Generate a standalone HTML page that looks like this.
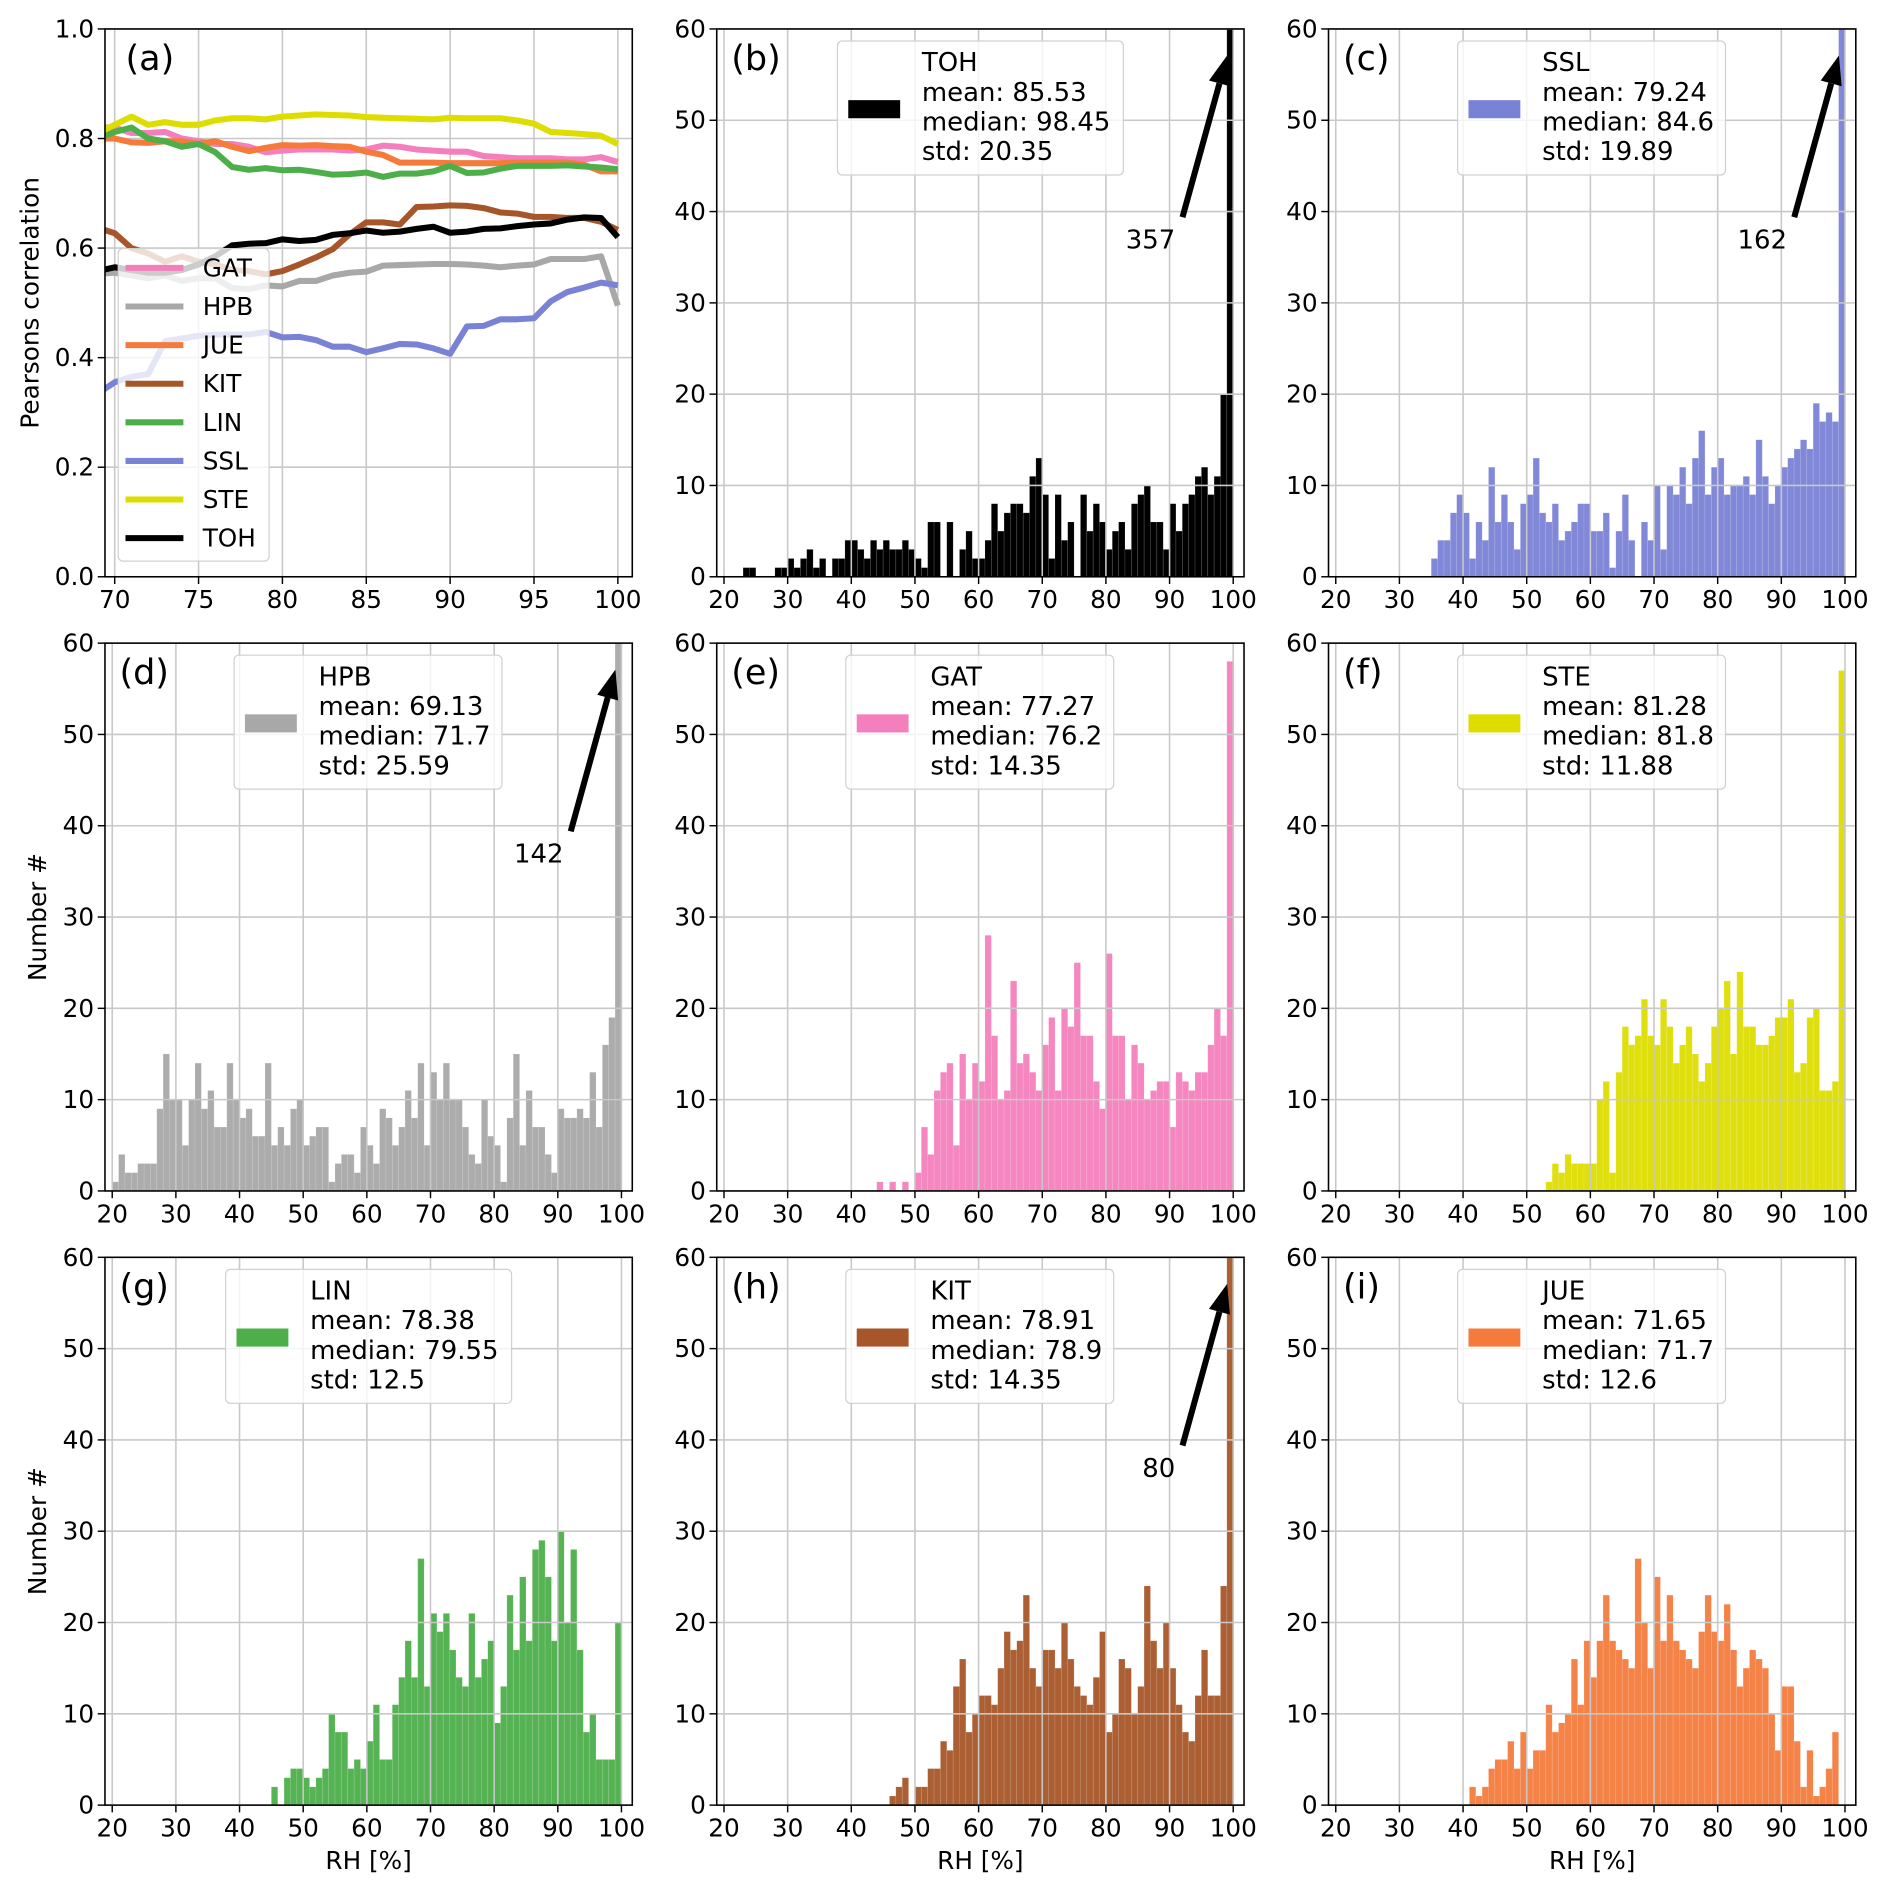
<!DOCTYPE html>
<html><head><meta charset="utf-8"><title>RH histograms</title>
<style>
html,body{margin:0;padding:0;background:#fff;}
svg{display:block;font-family:"DejaVu Sans","Liberation Sans",sans-serif;}
</style></head>
<body>
<svg id="fig" xmlns="http://www.w3.org/2000/svg" width="1892" height="1892" viewBox="0 0 1568 1568"></svg>
<script>
// ---------- Panel (a) data ----------
const corrX = [69,70,71,72,73,74,75,76,77,78,79,80,81,82,83,84,85,86,87,88,89,90,91,92,93,94,95,96,97,98,99,100];
const corrGAT = [0.82,0.82,0.81,0.81,0.812,0.80,0.795,0.79,0.79,0.785,0.775,0.778,0.78,0.78,0.78,0.778,0.78,0.787,0.785,0.78,0.778,0.776,0.776,0.768,0.766,0.764,0.764,0.764,0.762,0.762,0.766,0.757];
const corrHPB = [0.553,0.555,0.55,0.545,0.55,0.54,0.545,0.545,0.527,0.525,0.532,0.53,0.54,0.54,0.55,0.555,0.557,0.568,0.569,0.57,0.571,0.571,0.57,0.568,0.565,0.568,0.57,0.58,0.58,0.58,0.585,0.495];
const corrJUE = [0.80,0.80,0.793,0.792,0.795,0.795,0.79,0.795,0.785,0.777,0.783,0.788,0.787,0.788,0.786,0.785,0.776,0.77,0.756,0.756,0.756,0.755,0.755,0.755,0.755,0.756,0.756,0.756,0.756,0.752,0.74,0.74];
const corrKIT = [0.637,0.627,0.60,0.59,0.575,0.585,0.575,0.57,0.56,0.558,0.552,0.558,0.57,0.583,0.598,0.625,0.647,0.647,0.643,0.675,0.676,0.678,0.677,0.673,0.665,0.663,0.657,0.657,0.655,0.655,0.648,0.633];
const corrLIN = [0.80,0.812,0.82,0.80,0.795,0.785,0.79,0.775,0.748,0.743,0.746,0.742,0.743,0.739,0.734,0.735,0.738,0.73,0.736,0.736,0.74,0.75,0.737,0.738,0.745,0.75,0.75,0.75,0.751,0.749,0.747,0.744];
const corrSSL = [0.335,0.355,0.365,0.37,0.43,0.435,0.44,0.442,0.442,0.442,0.447,0.437,0.438,0.432,0.42,0.42,0.41,0.417,0.425,0.424,0.417,0.407,0.457,0.458,0.47,0.47,0.472,0.503,0.52,0.528,0.537,0.532];
const corrSTE = [0.81,0.825,0.84,0.825,0.83,0.825,0.825,0.833,0.837,0.837,0.835,0.84,0.842,0.844,0.843,0.842,0.839,0.838,0.837,0.836,0.835,0.838,0.837,0.837,0.837,0.833,0.827,0.812,0.81,0.808,0.805,0.79];
const corrTOH = [0.558,0.565,0.56,0.555,0.555,0.56,0.57,0.585,0.605,0.608,0.609,0.616,0.613,0.615,0.624,0.627,0.632,0.628,0.63,0.635,0.639,0.628,0.63,0.635,0.636,0.64,0.643,0.645,0.652,0.656,0.655,0.62];
const corrYTicks = [0.0,0.2,0.4,0.6,0.8,1.0];
const corrXTicks = [70,75,80,85,90,95,100];

// ---------- Histogram data (counts per 1% RH bin, starting at given bin) ----------
const histXTicks = [20,30,40,50,60,70,80,90,100];
const histYTicks = [0,10,20,30,40,50,60];
const tohStart = 23;
const tohCounts = [1,1,0,0,0,1,1,2,1,2,3,1,2,0,2,2,4,4,3,2,4,3,4,3,3,4,3,2,1,6,6,0,6,0,3,5,2,2,4,8,5,7,8,8,7,11,13,9,2,9,4,6,0,9,5,8,6,3,5,6,3,8,9,10,6,6,3,8,5,8,9,11,12,9,11,20,357];
const sslStart = 35;
const sslCounts = [2,4,4,7,9,7,2,6,4,12,6,9,6,3,8,9,13,7,6,8,4,5,6,8,8,5,5,7,1,5,9,4,0,6,4,10,3,10,9,12,8,13,16,9,12,13,9,10,10,11,9,15,11,8,10,12,13,14,15,14,19,17,18,17,162];
const hpbStart = 20;
const hpbCounts = [1,4,2,2,3,3,3,9,15,10,10,5,10,14,9,11,7,7,14,10,8,9,6,6,14,5,7,5,9,10,5,6,7,7,1,3,4,4,2,7,5,3,9,8,5,7,11,8,14,5,13,10,14,10,10,7,4,3,10,6,5,1,8,15,5,11,7,7,4,2,9,8,8,9,8,13,7,16,19,142];
const gatStart = 44;
const gatCounts = [1,0,1,0,1,0,2,7,4,11,13,14,5,15,10,14,12,28,17,10,11,23,14,15,13,11,16,19,11,20,18,25,17,17,12,9,26,17,17,10,16,14,10,11,12,12,7,13,12,11,13,13,16,20,17,58];
const steStart = 53;
const steCounts = [1,3,2,4,3,3,3,3,10,12,2,13,18,16,17,21,17,16,21,18,14,16,18,15,12,14,18,20,23,15,24,18,18,16,16,17,19,19,21,13,14,19,20,11,11,12,57];
const linStart = 45;
const linCounts = [2,0,3,4,4,3,2,3,4,10,8,8,4,5,4,7,11,5,5,11,14,18,14,27,13,21,19,21,17,14,13,21,14,16,18,9,13,23,17,25,18,28,29,25,18,30,20,28,17,8,10,5,5,5,20];
const kitStart = 46;
const kitCounts = [1,2,3,0,2,2,4,4,7,6,13,16,8,10,12,12,11,15,19,17,18,23,15,13,17,17,15,20,16,13,12,11,14,19,8,10,16,15,10,13,24,18,15,20,15,11,8,7,12,17,12,12,24,80];
const jueStart = 41;
const jueCounts = [2,1,2,4,5,5,7,4,8,4,6,6,11,8,9,10,16,11,18,14,18,23,18,17,16,15,27,20,15,25,18,23,18,17,16,15,19,23,19,18,22,17,13,15,17,16,15,10,6,13,13,7,2,6,1,2,4,8];

const statNames = ['TOH','SSL','HPB','GAT','STE','LIN','KIT','JUE'];
const statMeans = ['85.53','79.24','69.13','77.27','81.28','78.38','78.91','71.65'];
const statMedians = ['98.45','84.6','71.7','76.2','81.8','79.55','78.9','71.7'];
const statStds = ['20.35','19.89','25.59','14.35','11.88','12.5','14.35','12.6'];

// ---------- layout ----------
const NS = 'http://www.w3.org/2000/svg';
const svg = document.getElementById('fig');
const COLL = [87, 594, 1101], ROWT = [24, 533, 1042], AW = 437, AH = 454;
const COL = {GAT:'#f47fbd', HPB:'#a8a8a8', JUE:'#f47b3c', KIT:'#a65628', LIN:'#4daf4a', SSL:'#7a82d6', STE:'#dddd00', TOH:'#000000'};
const GRID = '#c8c8c8';

function el(tag, attrs, parent) {
  const e = document.createElementNS(NS, tag);
  for (const k in attrs) e.setAttribute(k, attrs[k]);
  (parent || svg).appendChild(e);
  return e;
}
function txt(str, attrs, parent) { const t = el('text', attrs, parent); t.textContent = str; return t; }

const defs = el('defs', {});

function axesFrame(g, L, T, xs, ys, xTicks, yTicks, fmtY, name) {
  xTicks.forEach(v => {
    const x = xs(v);
    const tk = el('line', {x1:x, y1:T+AH, x2:x, y2:T+AH+6, stroke:'#000', 'stroke-width':1.2}, g);
    
    
    const lb = txt(String(v), {x:x, y:T+AH+26, 'font-size':20.5, 'text-anchor':'middle', fill:'#000'}, g);
    
    
  });
  yTicks.forEach(v => {
    const y = ys(v);
    const tk = el('line', {x1:L-6, y1:y, x2:L, y2:y, stroke:'#000', 'stroke-width':1.2}, g);
    
    
    const lb = txt(fmtY(v), {x:L-9, y:y+7, 'font-size':20.5, 'text-anchor':'end', fill:'#000'}, g);
    
    
  });
  const fr = el('rect', {x:L, y:T, width:AW, height:AH, fill:'none', stroke:'#000', 'stroke-width':1.3}, g);
  
  
}

function grid(g, xs, ys, xTicks, yTicks, L, T) {
  xTicks.forEach(v => {
    const gl = el('line', {x1:xs(v), y1:T, x2:xs(v), y2:T+AH, stroke:GRID, 'stroke-width':1.3}, g);
    
    
  });
  yTicks.forEach(v => {
    const gl = el('line', {x1:L, y1:ys(v), x2:L+AW, y2:ys(v), stroke:GRID, 'stroke-width':1.3}, g);
    
    
  });
}

// ---------- Panel (a) ----------
(function(){
  const L = COLL[0], T = ROWT[0];
  const xmin = 69.42, xmax = 100.86;
  const xs = v => L + (v - xmin) / (xmax - xmin) * AW;
  const ys = v => T + AH - v * AH;
  const g = el('g', {});
  
  
  const cp = el('clipPath', {id:'clip-a'}, defs);
  el('rect', {x:L, y:T, width:AW, height:AH}, cp);
  grid(g, xs, ys, corrXTicks, corrYTicks, L, T);
  const series = [['GAT',corrGAT],['HPB',corrHPB],['JUE',corrJUE],['KIT',corrKIT],['LIN',corrLIN],['SSL',corrSSL],['STE',corrSTE],['TOH',corrTOH]];
  const lg = el('g', {'clip-path':'url(#clip-a)'}, g);
  series.forEach(([n, arr]) => {
    const d = arr.map((v,i) => (i?'L':'M') + xs(corrX[i]).toFixed(2) + ' ' + ys(v).toFixed(2)).join(' ');
    const p = el('path', {d:d, fill:'none', stroke:COL[n], 'stroke-width':5, 'stroke-linejoin':'round'}, lg);
    
    
  });
  axesFrame(g, L, T, xs, ys, corrXTicks, corrYTicks, v => v.toFixed(1), 'panel-a');
  const lab = txt('(a)', {x:104, y:58, 'font-size':29, fill:'#000'}, g);
  
  
  const leg = el('g', {}, g);
  
  
  el('rect', {x:98, y:206, width:125, height:259, rx:4, fill:'#fff', 'fill-opacity':0.8, stroke:'#d0d0d0', 'stroke-width':1}, leg);
  series.forEach(([n], i) => {
    const y = 222 + i * 32;
    const e = el('g', {}, leg);
    
    
    el('line', {x1:104, y1:y, x2:152, y2:y, stroke:COL[n], 'stroke-width':5}, e);
    txt(n, {x:168, y:y+7, 'font-size':20.5, fill:'#000'}, e);
  });
  const yl = txt('Pearsons correlation', {x:0, y:0, 'font-size':20.5, 'text-anchor':'middle', fill:'#000', transform:'translate(32 251) rotate(-90)'}, g);
  
  
})();

// ---------- Histogram panels ----------
const histDefs = [
  {key:'b', col:1, row:0, idx:0, start:tohStart, counts:tohCounts, arrow:true},
  {key:'c', col:2, row:0, idx:1, start:sslStart, counts:sslCounts, arrow:true},
  {key:'d', col:0, row:1, idx:2, start:hpbStart, counts:hpbCounts, arrow:true},
  {key:'e', col:1, row:1, idx:3, start:gatStart, counts:gatCounts, arrow:false},
  {key:'f', col:2, row:1, idx:4, start:steStart, counts:steCounts, arrow:false},
  {key:'g', col:0, row:2, idx:5, start:linStart, counts:linCounts, arrow:false},
  {key:'h', col:1, row:2, idx:6, start:kitStart, counts:kitCounts, arrow:true},
  {key:'i', col:2, row:2, idx:7, start:jueStart, counts:jueCounts, arrow:false}
];

histDefs.forEach(p => {
  const L = COLL[p.col], T = ROWT[p.row];
  const xmin = 18.86, xmax = 101.7;
  const xs = v => L + (v - xmin) / (xmax - xmin) * AW;
  const ys = v => T + AH - v / 60 * AH;
  const name = statNames[p.idx];
  const color = COL[name];
  const g = el('g', {});
  
  
  const cp = el('clipPath', {id:'clip-' + p.key}, defs);
  el('rect', {x:L, y:T, width:AW, height:AH}, cp);
  const bg = el('g', {'clip-path':'url(#clip-' + p.key + ')'}, g);
  p.counts.forEach((c, i) => {
    if (c <= 0) return;
    const x0 = xs(p.start + i), x1 = xs(p.start + i + 1);
    const r = el('rect', {x:x0, y:ys(c), width:x1 - x0, height:ys(0) - ys(c), fill:color, 'fill-opacity':name==='TOH'?1:0.95, stroke:'#ffffff', 'stroke-opacity':0.15, 'stroke-width':0.6}, bg);
    
    
  });
  grid(g, xs, ys, histXTicks, histYTicks, L, T);
  axesFrame(g, L, T, xs, ys, histXTicks, histYTicks, v => String(v), 'panel-' + p.key);
  const lab = txt('(' + p.key + ')', {x:L + 12, y:T + 34, 'font-size':29, fill:'#000'}, g);
  
  
  const lx = (p.key === 'g' || p.key === 'b') ? L + 100 : L + 107;
  const lw = (p.key === 'g' || p.key === 'b') ? 237 : 222;
  const leg = el('g', {}, g);
  
  
  el('rect', {x:lx, y:T + 10, width:lw, height:111, rx:4, fill:'#fff', 'fill-opacity':0.8, stroke:'#d0d0d0', 'stroke-width':1}, leg);
  el('rect', {x:lx + 9, y:T + 59, width:43, height:15, fill:color}, leg);
  const lines = [name, 'mean: ' + statMeans[p.idx], 'median: ' + statMedians[p.idx], 'std: ' + statStds[p.idx]];
  lines.forEach((s, i) => {
    const t = txt(s, {x:lx + 70, y:T + 35 + i * 24.6, 'font-size':21.5, fill:'#000'}, leg);
    
    
  });
  if (p.arrow) {
    const last = p.counts[p.counts.length - 1];
    const tipX = L + 423, tipY = T + 22, tailX = L + 386, tailY = T + 156;
    const ag = el('g', {}, g);
    
    
    const ang = Math.atan2(tipY - tailY, tipX - tailX);
    const hl = 24, hw = 9;
    const bx = tipX - hl * Math.cos(ang), by = tipY - hl * Math.sin(ang);
    el('line', {x1:tailX, y1:tailY, x2:bx, y2:by, stroke:'#000', 'stroke-width':5}, ag);
    const px = -Math.sin(ang), py = Math.cos(ang);
    el('polygon', {points:`${tipX},${tipY} ${bx+px*hw},${by+py*hw} ${bx-px*hw},${by-py*hw}`, fill:'#000'}, ag);
    const t = txt(String(last), {x:tailX - 6, y:tailY + 26, 'font-size':21.5, 'text-anchor':'end', fill:'#000'}, ag);
    
    
  }
  if (p.col === 0) {
    const yl = txt('Number #', {x:0, y:0, 'font-size':20.5, 'text-anchor':'middle', fill:'#000', transform:`translate(38 ${T + AH/2}) rotate(-90)`}, g);
    
    
  }
  if (p.row === 2) {
    const xl = txt('RH [%]', {x:L + AW/2, y:T + AH + 53, 'font-size':20.5, 'text-anchor':'middle', fill:'#000'}, g);
    
    
  }
});
</script>
</body></html>
